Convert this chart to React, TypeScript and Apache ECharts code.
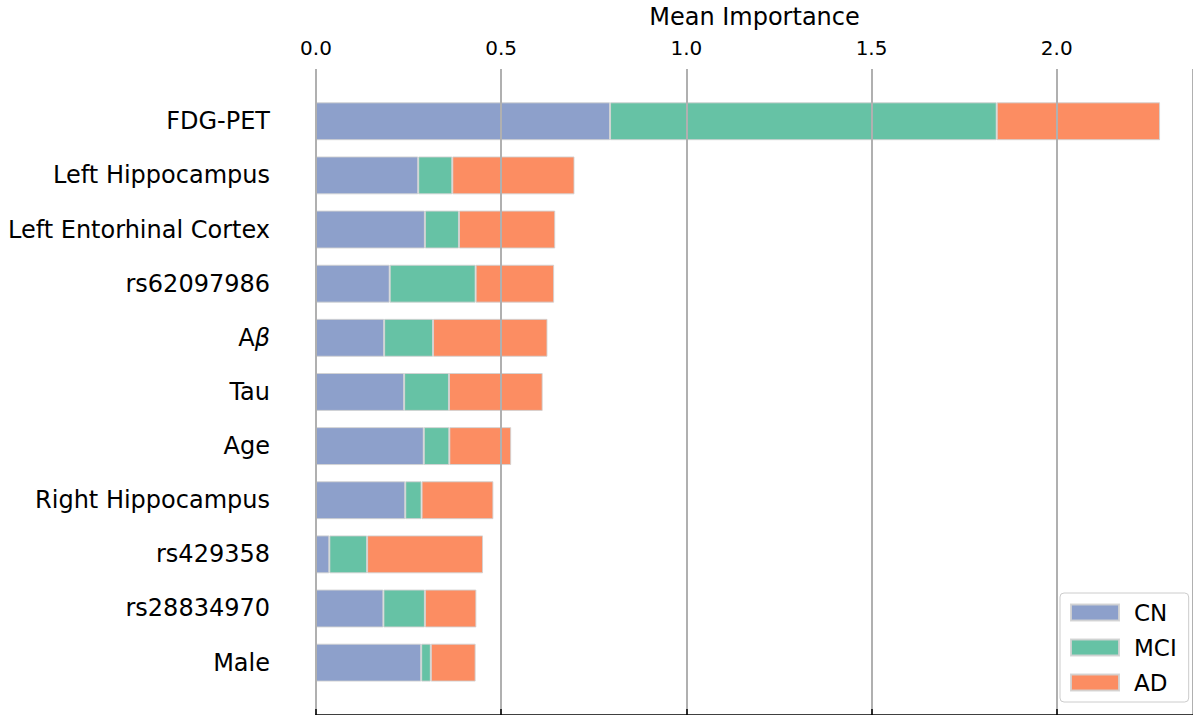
import React, { useEffect, useRef } from "react";
import * as echarts from "echarts";

const features = [
  "FDG-PET",
  "Left Hippocampus",
  "Left Entorhinal Cortex",
  "rs62097986",
  "Aβ",
  "Tau",
  "Age",
  "Right Hippocampus",
  "rs429358",
  "rs28834970",
  "Male",
];
const cnValues = [0.794, 0.276, 0.294, 0.199, 0.184, 0.238, 0.291, 0.241, 0.036, 0.182, 0.284];
const mciValues = [1.044, 0.092, 0.092, 0.232, 0.132, 0.121, 0.069, 0.044, 0.102, 0.112, 0.026];
const adValues = [0.441, 0.33, 0.26, 0.212, 0.309, 0.253, 0.167, 0.194, 0.313, 0.139, 0.121];
const xTicks = [0, 0.5, 1.0, 1.5, 2.0];
const xMax = 2.368;

const FONT = "DejaVu Sans";

export default function App() {
  const ref = useRef<HTMLDivElement>(null);
  useEffect(() => {
    document.body.style.margin = "0";
    if (!ref.current) return;
    const chart = echarts.init(ref.current, undefined, { renderer: "svg" });
    const barStyle = (color: string) => ({
      color,
      borderColor: "rgba(210,210,210,0.9)",
      borderWidth: 1,
    });
    chart.setOption({
      animation: false,
      textStyle: { fontFamily: FONT },
      grid: [
        { left: 316, right: 0, top: 67, bottom: 0 },
        { left: 316, width: 877, top: 94.2, height: 595.5 },
      ],
      legend: {
        orient: "vertical",
        left: 1060,
        top: 593,
        padding: [8, 12, 8, 10],
        icon: "rect",
        itemWidth: 48,
        itemHeight: 16,
        itemGap: 12,
        backgroundColor: "#fff",
        borderColor: "#cccccc",
        borderWidth: 1,
        borderRadius: 4,
        z: 20,
        textStyle: { fontSize: 23, lineHeight: 23, color: "#000", fontFamily: FONT, padding: [0, 0, 0, 10] },
        data: ["CN", "MCI", "AD"],
      },
      xAxis: [
        {
          gridIndex: 0,
          type: "value",
          position: "top",
          min: 0,
          max: xMax,
          interval: 0.5,
          z: 10,
          name: "Mean Importance",
          nameLocation: "middle",
          nameGap: 40,
          nameTextStyle: { fontSize: 24, color: "#000", fontFamily: FONT },
          axisLine: { show: true, lineStyle: { color: "#000", width: 1.5 } },
          axisTick: { show: true, length: 6, lineStyle: { color: "#000", width: 1.5 } },
          axisLabel: {
            fontSize: 20,
            color: "#000",
            margin: 11,
            fontFamily: FONT,
            showMaxLabel: false,
            formatter: (v: number) => (xTicks.some((t) => Math.abs(t - v) < 1e-6) ? v.toFixed(1) : ""),
          },
          splitLine: { show: true, lineStyle: { color: "#b0b0b0", width: 2 } },
        },
        {
          gridIndex: 1,
          type: "value",
          min: 0,
          max: xMax,
          show: false,
          splitLine: { show: false },
        },
      ],
      yAxis: [
        { gridIndex: 0, type: "value", show: false, splitLine: { show: false } },
        {
          gridIndex: 1,
          type: "category",
          inverse: true,
          data: features,
          axisLine: { show: false },
          axisTick: { show: false },
          axisLabel: {
            fontSize: 24,
            color: "#000",
            margin: 46,
            fontFamily: FONT,
            formatter: (v: string) => (v === "Aβ" ? "{n|A}{i|β}" : v),
            rich: {
              n: { fontSize: 24, color: "#000", fontFamily: FONT },
              i: { fontSize: 24, color: "#000", fontFamily: FONT, fontStyle: "italic" },
            },
          },
        },
      ],
      series: [
        { name: "CN", type: "bar", stack: "s", xAxisIndex: 1, yAxisIndex: 1, barCategoryGap: "30%", itemStyle: barStyle("#8da0cb"), data: cnValues },
        { name: "MCI", type: "bar", stack: "s", xAxisIndex: 1, yAxisIndex: 1, barCategoryGap: "30%", itemStyle: barStyle("#66c2a5"), data: mciValues },
        { name: "AD", type: "bar", stack: "s", xAxisIndex: 1, yAxisIndex: 1, barCategoryGap: "30%", itemStyle: barStyle("#fc8d62"), data: adValues },
      ],
    });
    return () => chart.dispose();
  }, []);
  return <div ref={ref} style={{ width: 1193, height: 715 }} />;
}
